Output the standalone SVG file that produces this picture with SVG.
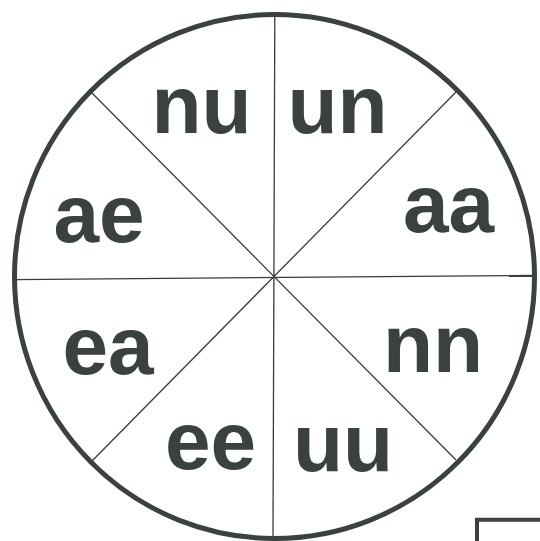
<svg xmlns="http://www.w3.org/2000/svg" width="540" height="541" viewBox="0 0 540 541">
<style>
.lbl{font-family:"Liberation Sans",Arial,sans-serif;font-weight:bold;font-size:82px;fill:#3b4040;text-anchor:middle}
.div{stroke:#3a3a42;stroke-width:1.3;fill:none}
</style>
<rect width="540" height="541" fill="#ffffff"/>
<g id="wheel">
<ellipse cx="274.5" cy="276.5" rx="260" ry="262" fill="none" stroke="#3b4040" stroke-width="5"/>
</g>
<g id="connectors">
<line class="div" x1="274.8" y1="16" x2="273" y2="536"/>
<line class="div" x1="16" y1="279.6" x2="532" y2="275.5"/>
<line class="div" x1="92" y1="93" x2="456" y2="460"/>
<line class="div" x1="456" y1="92" x2="92" y2="461"/>
</g>
<g id="nu"><text class="lbl" x="201.5" y="133">nu</text></g>
<g id="un"><text class="lbl" x="337.5" y="133">un</text></g>
<g id="aa"><text class="lbl" x="448.5" y="231.5">aa</text></g>
<g id="ae"><text class="lbl" x="99" y="242">ae</text></g>
<g id="ea"><text class="lbl" x="108" y="374">ea</text></g>
<g id="nn"><text class="lbl" x="433" y="371.5">nn</text></g>
<g id="ee"><text class="lbl" x="210.5" y="469">ee</text></g>
<g id="uu"><text class="lbl" x="343" y="471">uu</text></g>
<g id="corner-box">
<path d="M477 545 V519.7 H545" fill="none" stroke="#3b4040" stroke-width="4"/>
</g>
</svg>
